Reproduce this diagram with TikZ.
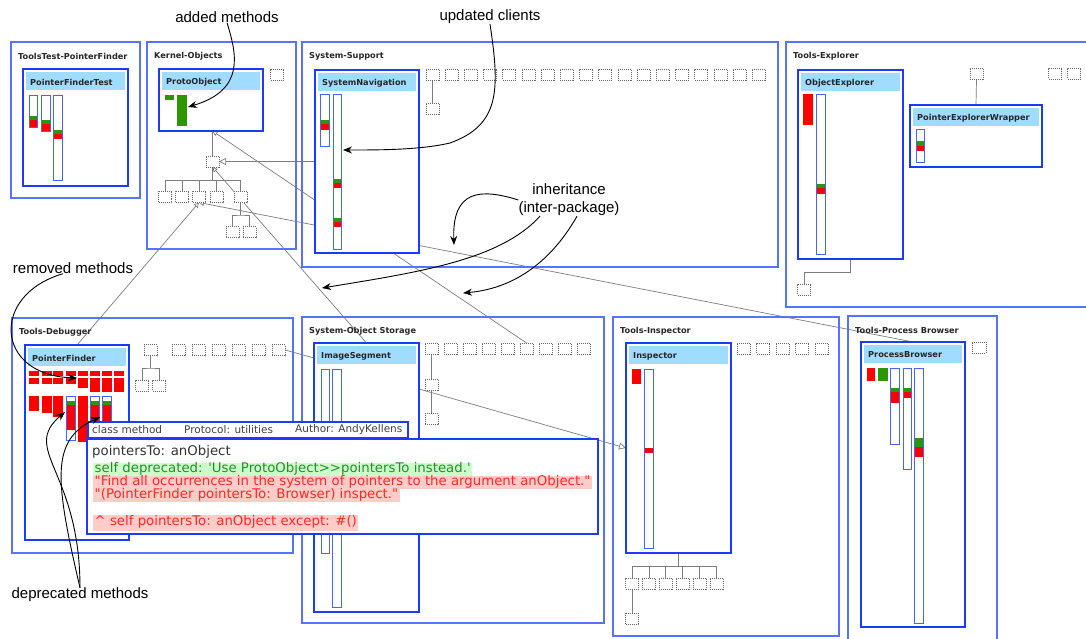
\documentclass[tikz,border=0pt]{standalone}
\usepackage{fontspec}
\usetikzlibrary{arrows.meta,calc}
\newfontfamily\uifont[Ligatures=TeXOff]{DejaVu Sans}
\newfontfamily\notefont{Liberation Sans}
\pgfdeclarelayer{bg}
\pgfsetlayers{bg,main}

\definecolor{pkgblue}{RGB}{85,115,255}
\definecolor{clsblue}{RGB}{25,60,255}
\definecolor{hdrblue}{RGB}{160,220,255}
\definecolor{barblue}{RGB}{70,100,255}
\definecolor{mgreen}{RGB}{45,150,0}
\definecolor{mred}{RGB}{255,0,0}
\definecolor{linkgray}{RGB}{125,125,125}
\definecolor{okbg}{RGB}{205,255,205}
\definecolor{oktext}{RGB}{40,140,40}
\definecolor{badbg}{RGB}{255,205,200}
\definecolor{badtext}{RGB}{255,40,40}

\tikzset{
  pkg/.style={draw=pkgblue, line width=1.3pt, anchor=north west, inner sep=0pt, outer sep=0pt},
  pkgtitle/.style={anchor=west, inner sep=0pt, text=black!85, font=\uifont\bfseries\fontsize{8.2}{10}\selectfont},
  cls/.style={draw=clsblue, line width=2.8pt, fill=white, anchor=north west, inner sep=0pt, outer sep=0pt},
  barline/.style={draw=barblue, line width=1pt, fill=white},
  dbox/.style={draw=black!60, line width=0.8pt, dash pattern=on 1pt off 1pt, fill=white,
    minimum width=13pt, minimum height=11pt, inner sep=0pt, outer sep=0pt},
  link/.style={draw=linkgray, line width=0.7pt},
  inh/.style={link, -{Triangle[open, length=7pt, width=7pt]}},
  sub/.style={link, -{Triangle[open, length=5pt, width=5pt]}},
  pophead/.style={draw=clsblue, line width=1.4pt, fill=white, anchor=north west, inner sep=0pt, outer sep=0pt},
  popbox/.style={draw=clsblue, line width=2.8pt, fill=white, anchor=north west, inner sep=0pt, outer sep=0pt},
  headtext/.style={anchor=west, inner sep=0pt, text=black!75, font=\uifont\fontsize{10.5}{12}\selectfont},
  code/.style={anchor=west, inner xsep=1.5pt, inner ysep=0pt, minimum height=13pt, text height=9.8pt, text depth=3pt,
    font=\uifont\fontsize{13.3}{14}\selectfont},
  note/.style={inner sep=0pt, font=\notefont\fontsize{15}{18}\selectfont},
  callout/.style={draw=black, line width=0.9pt, -{Stealth[length=9pt, width=7pt]}}
}

\newcommand\pkgbox[6]{%
  \node[pkg, minimum width={#4-#2}, minimum height={#5-#3}] (#1) at (#2,#3) {};
  \node[pkgtitle] (#1-t) at (#2+7,#3+14) {#6};}
\newcommand\clsbox[6]{%
  \node[cls, minimum width={#4-#2}, minimum height={#5-#3}] (#1) at (#2,#3) {};
  \fill[hdrblue] (#2+3,#3+3) rectangle (#4-3,#3+21);
  \node[pkgtitle] (#1-t) at (#2+7,#3+13) {#6};}
\newcommand\mbar[4]{\draw[barline] (#1,#2) rectangle (#3,#4);}
\newcommand\bands[5]{%
  \fill[mgreen] (#1+0.5,#3) rectangle (#2-0.5,#4);
  \fill[mred] (#1+0.5,#4) rectangle (#2-0.5,#5);}

\begin{document}
\begin{tikzpicture}[x=1pt, y=-1pt]
  \useasboundingbox (0,0) rectangle (1086,639);

  % packages
  \pkgbox{ptest}{11}{42}{140}{198}{ToolsTest-PointerFinder}
  \pkgbox{kernel}{147}{42}{296}{249}{Kernel-Objects}
  \pkgbox{support}{302}{42}{778}{267}{System-Support}
  \pkgbox{explorer}{786}{42}{1095}{307}{Tools-Explorer}
  \pkgbox{debugger}{12}{318}{293}{553}{Tools-Debugger}
  \pkgbox{storage}{302}{317}{604}{623}{System-Object Storage}
  \pkgbox{inspector}{613}{317}{839}{636}{Tools-Inspector}
  \pkgbox{procbrowser}{848}{316}{997}{648}{Tools-Process Browser}

  % classes
  \clsbox{pftest}{23}{69}{128}{186}{PointerFinderTest}
  \mbar{29}{96}{37}{128} \bands{29}{37}{116}{120}{127}
  \mbar{41}{96}{50}{132} \bands{41}{50}{120}{124}{131}
  \mbar{53}{96}{62}{181} \bands{53}{62}{130}{134}{139}

  \clsbox{proto}{159}{69}{263}{131}{ProtoObject}
  \fill[mgreen] (165,95) rectangle (174,100);
  \fill[mgreen] (177,95) rectangle (187,126);

  \clsbox{sysnav}{315}{70}{419}{253}{SystemNavigation}
  \mbar{320}{95}{329}{147} \bands{320}{329}{120}{124}{130}
  \mbar{333}{95}{341}{249} \bands{333}{341}{179}{183}{188}
  \bands{333}{341}{218}{222}{227}

  \clsbox{objexp}{798}{70}{903}{259}{ObjectExplorer}
  \fill[mred] (803,94) rectangle (813,125);
  \mbar{816}{95}{825}{254} \bands{816}{825}{184}{188}{194}

  \clsbox{pew}{910}{105}{1042}{167}{PointerExplorerWrapper}
  \mbar{916}{130}{924}{163} \bands{916}{924}{141}{146}{151}

  \clsbox{pfinder}{25}{345}{129}{540}{PointerFinder}
  \foreach \x in {29,42,53,66,78,90,102,114}
    \fill[mred] (\x,371) rectangle (\x+9.5,376);
  \foreach \x/\y in {29/384,42/384,53/384,66/384,78/388,90/392,102/392,114/392}
    \fill[mred] (\x,378) rectangle (\x+9.5,\y);
  \foreach \x/\y in {29/411,42/413,53/417,78/442}
    \fill[mred] (\x,396) rectangle (\x+9.5,\y);
  \foreach \x in {66,90,102} {
    \mbar{\x}{396}{\x+9.5}{440} \bands{\x}{\x+9.5}{401}{405}{430}
  }

  \clsbox{imgseg}{314}{343}{419}{612}{ImageSegment}
  \mbar{321}{369}{329}{553}
  \mbar{332}{369}{341}{607}

  \clsbox{insp}{626}{343}{731}{553}{Inspector}
  \fill[mred] (632,369) rectangle (641,384);
  \mbar{644}{369}{653}{548}
  \fill[mred] (644.5,448) rectangle (652.5,453);

  \clsbox{procbr}{861}{342}{965}{627}{ProcessBrowser}
  \fill[mred] (867,368) rectangle (875,381);
  \fill[mgreen] (878,368) rectangle (888,381);
  \mbar{890}{368}{899}{444} \bands{890}{899}{388}{392}{403}
  \mbar{903}{368}{911}{469} \bands{903}{911}{388}{392}{398}
  \mbar{914}{368}{923}{623} \bands{914}{923}{438}{447}{457}

  % placeholder classes
  \node[dbox] (kb0) at (212.5,161.5) {};
  \foreach \k/\x in {1/165,2/182,3/199,4/216.5,5/240.5}
    \node[dbox] (kb\k) at (\x,197) {};
  \node[dbox] (kb6) at (232.5,232) {};
  \node[dbox] (kb7) at (249.5,232) {};
  \node[dbox] (kside) at (277,74.5) {};
  \foreach \k in {0,...,17}
    \node[dbox] (ss\k) at ({432.5+19.2*\k},74.5) {};
  \node[dbox] (ssub) at (432.5,109) {};
  \node[dbox] (ex1) at (804,289.5) {};
  \node[dbox] (ex2) at (976.5,74) {};
  \node[dbox] (ex3) at (1055,74) {};
  \node[dbox] (ex4) at (1074,74) {};
  \node[dbox] (dtop) at (150.5,350) {};
  \node[dbox] (dl) at (142,385.5) {};
  \node[dbox] (dr) at (159,385.5) {};
  \foreach \k in {1,...,6}
    \node[dbox] (dr\k) at ({178.5+20*(\k-1)},350) {};
  \foreach \k in {1,...,9}
    \node[dbox] (so\k) at ({431.5+19*(\k-1)},348.5) {};
  \node[dbox] (so10) at (431.5,384.5) {};
  \node[dbox] (so11) at (431.5,419) {};
  \foreach \k in {1,...,5}
    \node[dbox] (ir\k) at ({743.5+19.5*(\k-1)},348.5) {};
  \foreach \k in {1,...,6}
    \node[dbox] (ib\k) at ({632+16.9*(\k-1)},583.5) {};
  \node[dbox] (ib7) at (632,619) {};
  \node[dbox, minimum width=14pt] (pb1) at (979,347.5) {};

  % links
  \begin{pgfonlayer}{bg}
    \draw[link] (proto.south -| kb0) -- (kb0.north);
    \coordinate (kbus) at (212.5,180);
    \draw[link] (kb0.south) -- (kbus);
    \draw[link] (kb1.north |- kbus) -- (kb5.north |- kbus);
    \foreach \k in {1,...,5}
      \draw[link] (kb\k.north) -- (kb\k.north |- kbus);
    \coordinate (kbus2) at (240.5,215);
    \draw[link] (kb5.south) -- (kbus2);
    \draw[link] (kb6.north) |- (kbus2) -| (kb7.north);
    \draw[inh] (kb0.east -| sysnav.west) -- (kb0.east);
    \draw[sub] (so6.north) -- (proto.south -| kb0);
    \draw[sub] (imgseg.north) -- (kb0.south);
    \draw[sub] (procbr.north) -- (kb3.south);
    \draw[sub] (pfinder.north) -- (kb3.south);
    \draw[link] (dr6.east) -- ($(imgseg.north west)+(0,15)$);
    \draw[inh] ($(imgseg.north east)+(0,46)$) -- ($(insp.north west)+(0,105)$);
    \draw[link] (ss0.south) -- (ssub.north);
    \draw[link] (objexp.south) -- ++(0,13) -| (ex1.north);
    \draw[link] (ex2.south) -- (pew.north);
    \coordinate (dbus) at (150.5,368);
    \draw[link] (dtop.south) -- (dbus);
    \draw[link] (dl.north) |- (dbus) -| (dr.north);
    \draw[link] (so1.south) -- (so10.north) (so10.south) -- (so11.north);
    \coordinate (ibus) at (678.5,566);
    \draw[link] (insp.south) -- (ibus);
    \draw[link] (ib1.north |- ibus) -- (ib6.north |- ibus);
    \foreach \k in {1,...,6}
      \draw[link] (ib\k.north) -- (ib\k.north |- ibus);
    \draw[link] (ib1.south) -- (ib7.north);
  \end{pgfonlayer}

  % method popup
  \node[pophead, minimum width=320, minimum height=16] (pophead) at (88,422) {};
  \node[headtext] (ph1) at (92,430) {class method};
  \node[headtext] (ph2) at (184,430) {Protocol: utilities};
  \node[headtext] (ph3) at (295,430) {Author: AndyKellens};
  \node[popbox, minimum width=511, minimum height=95] (popbox) at (87,439) {};
  \node[code, text=black!80, inner xsep=0pt] (src0) at (92,452) {pointersTo: anObject};
  \node[code, fill=okbg, text=oktext] (src1) at (93,469) {self deprecated: 'Use ProtoObject>>pointersTo instead.'};
  \node[code, fill=badbg, text=badtext] (src2) at (93,482.5) {"Find all occurrences in the system of pointers to the argument anObject."};
  \node[code, fill=badbg, text=badtext] (src3) at (93,495.5) {"(PointerFinder pointersTo: Browser) inspect."};
  \node[code, fill=badbg, text=badtext, minimum height=16pt] (src4) at (93,522.5) {\textasciicircum\ self pointersTo: anObject except: \#()};

  % annotations
  \node[note] (addnote) at (227,17) {added methods};
  \node[note] (updnote) at (490,17) {updated clients};
  \node[note, align=center] (inhnote) at (569,200) {inheritance\\(inter-package)};
  \node[note] (remnote) at (73,268) {removed methods};
  \node[note] (depnote) at (80,595) {deprecated methods};
  \coordinate (addtip) at (188,107);
  \coordinate (updtip) at (343,150);
  \coordinate (inhtipa) at (454,245);
  \coordinate (inhtipb) at (322,288);
  \coordinate (inhtipc) at (463,293);
  \coordinate (remtip) at (77,378);
  \coordinate (deptipa) at (65,412);
  \coordinate (deptipb) at (100,417);
  \draw[callout] (addnote.south) .. controls (237,55) and (245,90) .. (addtip);
  \draw[callout] (updnote.south) .. controls (500,90) and (500,125) .. (450,143)
    .. controls (420,150) and (380,150) .. (updtip);
  \draw[callout] (inhnote.west) .. controls (480,188) and (452,190) .. (inhtipa);
  \draw[callout] ($(inhnote.south)+(-29,0)$) .. controls (500,260) and (420,272) .. (inhtipb);
  \draw[callout] ($(inhnote.south)+(8,0)$) .. controls (555,255) and (520,288) .. (inhtipc);
  \draw[callout] ($(remnote.south)+(-10,0)$) .. controls (-10,295) and (-5,375) .. (remtip);
  \draw[callout] (depnote.north) .. controls (80,470) and (20,450) .. (deptipa);
  \draw[callout] (depnote.north) .. controls (55,480) and (50,440) .. (deptipb);
\end{tikzpicture}
\end{document}
